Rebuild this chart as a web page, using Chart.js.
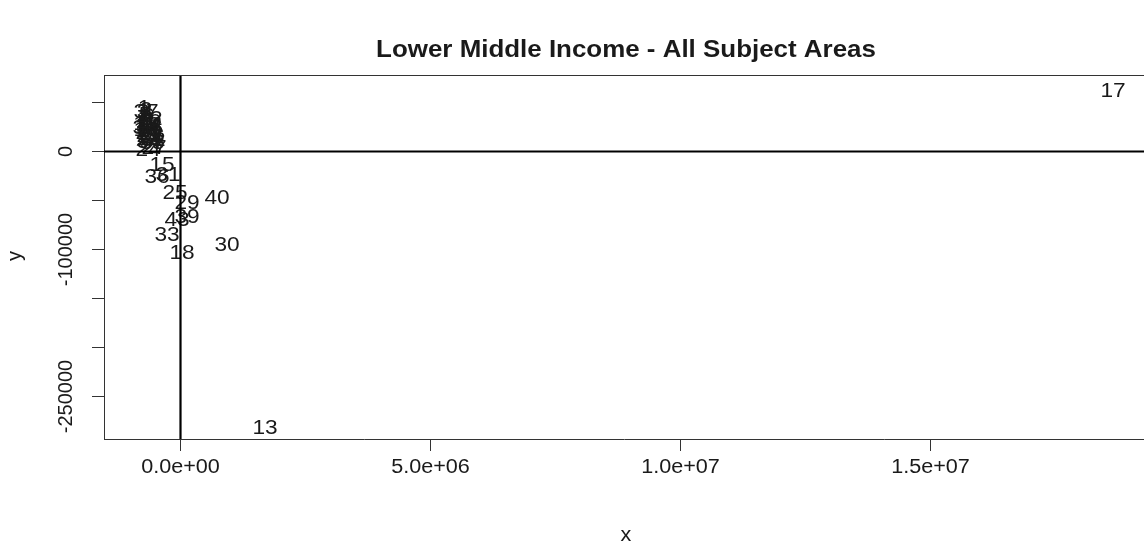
<!DOCTYPE html>
<html>
<head>
<meta charset="utf-8">
<script src="https://cdn.jsdelivr.net/npm/chart.js@4.4.1/dist/chart.umd.min.js"></script>
<style>
  html, body { margin: 0; padding: 0; background: #fff; overflow: hidden; }
  #wrap { width: 1144px; height: 545px; }
</style>
</head>
<body>
<div id="wrap"><canvas id="c" width="1144" height="545"></canvas></div>
<script>
// Point labels (case ids) with their x and y values
const pointLabels = ['1','2','3','4','5','6','7','8','9','10',
  '11','12','13','14','15','16','17','18','19','20',
  '21','22','23','24','25','26','27','28','29','30',
  '31','32','33','34','35','36','37','38','39','40',
  '41','42','43'];
const xValues = [-730000,-690000,-750000,-670000,-710000,-650000,-730000,-670000,-690000,-630000,
  -710000,-650000,1690000,-670000,-370000,-610000,18650000,30000,-690000,-630000,
  -650000,-590000,-630000,-650000,-110000,-570000,-530000,-610000,130000,930000,
  -250000,-550000,-270000,-630000,-570000,-470000,-690000,-710000,130000,730000,
  -590000,-610000,-70000];
const yValues = [44400,42300,40300,39300,37200,36200,34200,33200,31100,30100,
  28100,27000,-282000,25000,-13800,24000,61700,-103600,21900,20900,
  18900,17900,15800,1500,-42300,14800,3600,12800,-52600,-95400,
  -24000,11700,-85200,9700,8700,-26000,40300,24000,-66800,-47400,
  27000,33200,-69900];

// Axis ticks
const xTickValues = [0, 5000000, 10000000, 15000000];
const xTickLabels = ['0.0e+00', '5.0e+06', '1.0e+07', '1.5e+07'];
const yTickValues = [50000, 0, -50000, -100000, -150000, -200000, -250000];
const yTickLabels = ['', '0', '', '-100000', '', '', '-250000'];

const chartTitle = 'Lower Middle Income - All Subject Areas';
const xTitle = 'x';
const yTitle = 'y';

const FONT = '"Liberation Sans", Arial, sans-serif';
const INK = '#1a1a1a';
const WIDEN = 1.08;   // the device draws upright glyphs slightly wide

const points = xValues.map((x, i) => ({ x: x, y: yValues[i] }));

// upright text with the device's slight widening, or plain rotated text
function devText(ctx, str, px, py, rot) {
  ctx.save();
  ctx.translate(px, py);
  if (rot) ctx.rotate(rot); else ctx.scale(WIDEN, 1);
  ctx.fillText(str, 0, 0);
  ctx.restore();
}

// Draws the id text at each point, then the reference lines, box top and labels
const textPlot = {
  id: 'textPlot',
  afterDatasetsDraw(chart) {
    const { ctx, chartArea: a, scales: { x, y } } = chart;
    ctx.save();
    ctx.beginPath();
    ctx.rect(a.left, a.top, a.right - a.left, a.bottom - a.top);
    ctx.clip();
    ctx.fillStyle = INK;
    ctx.font = '21px ' + FONT;
    ctx.textAlign = 'center';
    ctx.textBaseline = 'middle';
    points.forEach((p, i) => {
      devText(ctx, pointLabels[i], x.getPixelForValue(p.x), y.getPixelForValue(p.y));
    });
    // zero reference lines
    ctx.strokeStyle = '#000';
    ctx.lineWidth = 2.2;
    const y0 = y.getPixelForValue(0);
    const x0 = x.getPixelForValue(0);
    ctx.beginPath();
    ctx.moveTo(a.left, y0); ctx.lineTo(a.right, y0);
    ctx.moveTo(x0, a.top); ctx.lineTo(x0, a.bottom);
    ctx.stroke();
    ctx.restore();

    // top edge of the plot box
    ctx.save();
    ctx.strokeStyle = '#333';
    ctx.lineWidth = 1;
    ctx.beginPath();
    ctx.moveTo(a.left, a.top + 0.5); ctx.lineTo(a.right, a.top + 0.5);
    ctx.stroke();

    ctx.fillStyle = INK;
    ctx.textAlign = 'center';
    ctx.textBaseline = 'middle';
    ctx.font = '20px ' + FONT;
    // x tick labels
    xTickValues.forEach((v, i) => {
      devText(ctx, xTickLabels[i], x.getPixelForValue(v), 467);
    });
    // y tick labels, rotated like the axis
    yTickValues.forEach((v, i) => {
      if (!yTickLabels[i]) return;
      devText(ctx, yTickLabels[i], 66, y.getPixelForValue(v), -Math.PI / 2);
    });

    // titles
    ctx.font = 'bold 24px ' + FONT;
    devText(ctx, chartTitle, 626, 50);
    ctx.font = '20px ' + FONT;
    devText(ctx, xTitle, 626, 535);
    devText(ctx, yTitle, 15, 256, -Math.PI / 2);
    ctx.restore();
  }
};

new Chart(document.getElementById('c'), {
  type: 'scatter',
  data: {
    datasets: [{
      data: points,
      pointRadius: 0,
      pointHoverRadius: 0,
      showLine: false
    }]
  },
  options: {
    responsive: false,
    devicePixelRatio: 1,
    animation: false,
    events: [],
    layout: { padding: { top: 75, left: 0, right: 0, bottom: 0 } },
    plugins: { legend: { display: false }, tooltip: { enabled: false }, title: { display: false } },
    scales: {
      x: {
        type: 'linear',
        min: -1530000,
        max: 19270000,
        afterBuildTicks(scale) { scale.ticks = xTickValues.map(v => ({ value: v })); },
        afterFit(scale) { scale.height = 106; },
        grid: { drawOnChartArea: false, drawTicks: true, tickLength: 12, color: '#333', lineWidth: 1 },
        border: { display: true, color: '#333', width: 1 },
        ticks: { display: false }
      },
      y: {
        type: 'linear',
        min: -293400,
        max: 78100,
        afterBuildTicks(scale) { scale.ticks = yTickValues.map(v => ({ value: v })); },
        afterFit(scale) { scale.width = 104; },
        grid: { drawOnChartArea: false, drawTicks: true, tickLength: 12, color: '#333', lineWidth: 1 },
        border: { display: true, color: '#333', width: 1 },
        ticks: { display: false }
      }
    }
  },
  plugins: [textPlot]
});
</script>
</body>
</html>
